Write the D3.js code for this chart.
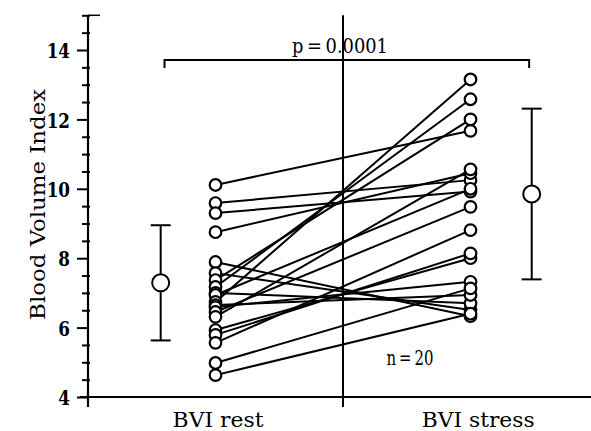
<!DOCTYPE html>
<html>
<head>
<meta charset="utf-8">
<script src="https://cdn.jsdelivr.net/npm/d3@7"></script>
<style>
  body { margin: 0; background: #fff; }
  text { font-family: "DejaVu Serif", "Liberation Serif", serif; fill: #000; }
</style>
</head>
<body>
<div class="canvas"></div>
<script>
// Data
const groups = ['BVI rest', 'BVI stress'];
const bviRest   = [10.11, 9.59, 9.30, 8.75, 7.89, 7.57, 7.37, 7.17, 7.00, 6.94,
                   6.74, 6.65, 6.59, 6.45, 6.31, 5.93, 5.79, 5.56, 4.98, 4.63];
const bviStress = [11.67, 10.25, 9.92, 10.45, 6.33, 6.51, 12.00, 12.58, 6.70, 10.00,
                   13.15, 6.94, 7.32, 9.48, 10.56, 8.00, 8.14, 8.81, 7.13, 6.40];
const means = [7.29, 9.85];
const sds   = [1.66, 2.46];   // half-length of the error bars
const yTicks = [4, 6, 8, 10, 12, 14];
const pLabel = 'p = 0.0001';
const nLabel = 'n = 20';

// Setup dimentions
const dims = { width: 591, height: 431 };
const margin = { left: 88, bottom: 397, top: 15.3 };

const svg = d3.select('.canvas')
  .append('svg')
  .attr('width', dims.width)
  .attr('height', dims.height);

const y = d3.scaleLinear().domain([4, 15]).range([margin.bottom, margin.top]);
// x in "group units": 0 = axis, 1 = divider between groups
const x = d3.scaleLinear().domain([0, 2]).range([margin.left, margin.left + 510]);

const pos = { rest: 0.5, stress: 1.5, meanRest: 0.285, meanStress: 1.74 };

// put a text at (tx, ty) and squeeze/stretch it horizontally to a given width
const placeText = (str, tx, ty, size, width, rot = 0) => {
  const t = svg.append('text')
    .attr('text-anchor', 'middle')
    .style('font-size', size + 'px')
    .text(str);
  const k = width / t.node().getComputedTextLength();
  t.attr('transform', `translate(${tx},${ty}) rotate(${rot}) scale(${k},1)`);
  return t;
};

// y axis with minor ticks
const yAxis = d3.axisLeft(y)
  .tickValues(d3.range(4, 15.01, 0.5))
  .tickSize(0)
  .tickFormat(d => yTicks.includes(d) ? d : '');

const yg = svg.append('g')
  .attr('transform', `translate(${margin.left},0)`)
  .call(yAxis);
yg.select('.domain').remove();
yg.selectAll('.tick line')
  .attr('x1', d => yTicks.includes(d) ? -11 : -6)
  .attr('x2', d => yTicks.includes(d) ? 0 : 2)
  .attr('stroke', '#000')
  .attr('stroke-width', 2);
yg.selectAll('.tick text')
  .attr('dy', '0.37em')
  .attr('x', -22.5)
  .attr('text-anchor', 'end')
  .style('font-size', '21px')
  .style('font-family', '"DejaVu Serif", serif')
  .style('font-weight', 'bold')
  .attr('transform', 'scale(0.8,1)');

// frame lines
svg.append('line')
  .attr('x1', x(0)).attr('x2', x(0))
  .attr('y1', y(15)).attr('y2', y(4) + 10)
  .attr('stroke', '#000').attr('stroke-width', 2.2);
svg.append('line')
  .attr('x1', x(0) - 8).attr('x2', dims.width)
  .attr('y1', y(4)).attr('y2', y(4))
  .attr('stroke', '#000').attr('stroke-width', 2.2);
svg.append('line')
  .attr('x1', x(0)).attr('x2', x(0) + 12)
  .attr('y1', y(15)).attr('y2', y(15))
  .attr('stroke', '#000').attr('stroke-width', 1.5);
svg.append('line')
  .attr('x1', x(1)).attr('x2', x(1))
  .attr('y1', y(15)).attr('y2', y(4) + 10)
  .attr('stroke', '#000').attr('stroke-width', 2);

// x labels
placeText(groups[0], x(0.51), 427, 21, 91);
placeText(groups[1], x(1.53), 427, 21, 113);

// y title
placeText('Blood Volume Index', 45, y(9.55), 20, 231, -90);

// paired lines
const pairs = bviRest.map((r, i) => ({ rest: r, stress: bviStress[i] }));

svg.append('g').selectAll('line')
  .data(pairs)
  .enter()
  .append('line')
    .attr('x1', x(pos.rest)).attr('y1', d => y(d.rest))
    .attr('x2', x(pos.stress)).attr('y2', d => y(d.stress))
    .attr('stroke', '#000')
    .attr('stroke-width', 2);

const dots = svg.append('g');
dots.selectAll('.rest')
  .data(bviRest)
  .enter()
  .append('circle')
    .attr('cx', x(pos.rest)).attr('cy', d => y(d))
    .attr('r', 5.8)
    .attr('fill', '#fff').attr('stroke', '#000').attr('stroke-width', 2.2);
dots.selectAll('.stress')
  .data(bviStress)
  .enter()
  .append('circle')
    .attr('cx', x(pos.stress)).attr('cy', d => y(d))
    .attr('r', 5.8)
    .attr('fill', '#fff').attr('stroke', '#000').attr('stroke-width', 2.2);

// mean +/- sd
const summary = means.map((m, i) => ({ m, sd: sds[i], px: i === 0 ? pos.meanRest : pos.meanStress }));
const sg = svg.append('g');
summary.forEach(d => {
  const cx = x(d.px);
  sg.append('line')
    .attr('x1', cx).attr('x2', cx)
    .attr('y1', y(d.m + d.sd)).attr('y2', y(d.m - d.sd))
    .attr('stroke', '#000').attr('stroke-width', 2);
  [d.m + d.sd, d.m - d.sd].forEach(v => {
    sg.append('line')
      .attr('x1', cx - 10).attr('x2', cx + 10)
      .attr('y1', y(v)).attr('y2', y(v))
      .attr('stroke', '#000').attr('stroke-width', 2);
  });
  sg.append('circle')
    .attr('cx', cx).attr('cy', y(d.m))
    .attr('r', 8.5)
    .attr('fill', '#fff').attr('stroke', '#000').attr('stroke-width', 2);
});

// significance bracket
const by = 60;
svg.append('path')
  .attr('d', `M${x(0.3)},${by + 8} V${by} H${x(1.73)} V${by + 8}`)
  .attr('fill', 'none')
  .attr('stroke', '#000')
  .attr('stroke-width', 2);
placeText(pLabel.replace(/ /g, '\u2009'), 340, 53, 20, 96);

placeText(nLabel.replace(/ /g, '\u2009'), 410, 365, 20, 47);
</script>
</body>
</html>
